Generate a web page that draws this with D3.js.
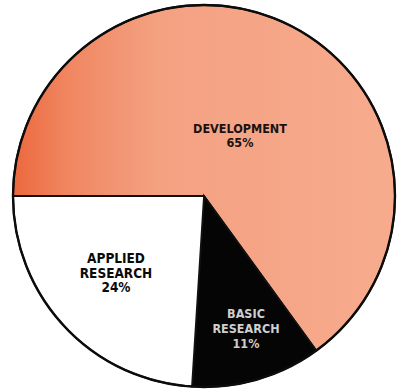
<!DOCTYPE html>
<html><head><meta charset="utf-8">
<script src="https://cdn.jsdelivr.net/npm/d3@7"></script>
<style>html,body{margin:0;padding:0;background:#fff;overflow:hidden}</style>
</head><body>
<svg id="chart" width="397" height="389"></svg>
<script>
const categories = ["DEVELOPMENT", "BASIC RESEARCH", "APPLIED RESEARCH"];
const labelLines = [["DEVELOPMENT", "65%"], ["BASIC", "RESEARCH", "11%"], ["APPLIED", "RESEARCH", "24%"]];
const values = [65, 11, 24];
const fills = ["url(#devGrad)", "#050505", "#ffffff"];
const textColors = ["#1a1210", "#cfcfcf", "#0a0a0a"];

const svg = d3.select("#chart");
const cx = 204, cy = 196, r = 191;

const defs = svg.append("defs");
const grad = defs.append("linearGradient").attr("id", "devGrad")
  .attr("gradientUnits", "userSpaceOnUse")
  .attr("x1", -r).attr("y1", 0).attr("x2", r).attr("y2", 0);
grad.append("stop").attr("offset", "0").attr("stop-color", "#ec683d");
grad.append("stop").attr("offset", "0.14").attr("stop-color", "#f08660");
grad.append("stop").attr("offset", "0.38").attr("stop-color", "#f4a182");
grad.append("stop").attr("offset", "1").attr("stop-color", "#f7ab8d");

const pie = d3.pie().sort(null).value(d => d)
  .startAngle(-Math.PI / 2).endAngle(1.5 * Math.PI);
const arcs = pie(values);
const arc = d3.arc().innerRadius(0).outerRadius(r);

const g = svg.append("g").attr("transform", `translate(${cx},${cy})`);
g.selectAll("path.slice").data(arcs).join("path")
  .attr("class", "slice")
  .attr("d", arc)
  .attr("fill", (d, i) => fills[i])
  .attr("stroke", "#111")
  .attr("stroke-width", 1.8)
  .attr("stroke-linejoin", "miter");

g.append("circle").attr("r", r).attr("fill", "none")
  .attr("stroke", "#0c0c0c").attr("stroke-width", 2.4);

const labelPos = [[36, -63], [42, 122], [-88, 67]];
const fontSizes = [12.5, 12.5, 13.5];
const lineHeights = [14, 15, 14.5];
const weights = ["bold", "bold", "bold"];

arcs.forEach((d, i) => {
  const t = g.append("text")
    .attr("text-anchor", "middle")
    .attr("font-family", "'DejaVu Sans Condensed', 'DejaVu Sans', sans-serif")
    .attr("font-stretch", "condensed")
    .attr("font-weight", weights[i])
    .attr("font-size", fontSizes[i])
    .attr("fill", textColors[i]);
  labelLines[i].forEach((ln, j) => {
    t.append("tspan").attr("x", labelPos[i][0])
      .attr("y", labelPos[i][1] + j * lineHeights[i])
      .text(ln);
  });
});
</script>
</body></html>
